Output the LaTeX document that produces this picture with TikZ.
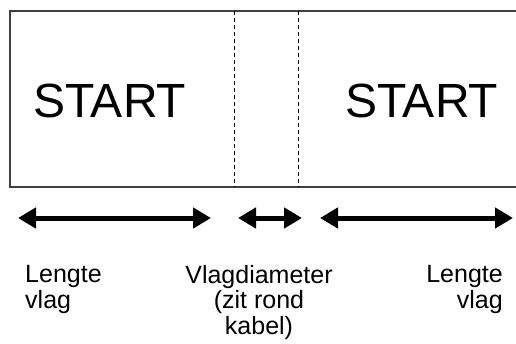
\documentclass[tikz,border=0pt]{standalone}
\usepackage{fontspec}
\setmainfont{Liberation Sans}
\usetikzlibrary{arrows.meta}
\begin{document}
\begin{tikzpicture}[x=1pt,y=-1pt,
  frame/.style={draw=black!75,line width=1.4pt},
  cut/.style={draw=black,line width=0.8pt,dash pattern=on 4pt off 3pt},
  dimarrow/.style={line width=5pt,{Triangle[length=18pt,width=20pt]}-{Triangle[length=18pt,width=20pt]}},
  bigtext/.style={font=\fontsize{48}{52}\selectfont,inner sep=0pt},
  label/.style={font=\fontsize{25}{25.5}\selectfont,inner sep=0pt}]
\useasboundingbox (0,0) rectangle (516,343);
\draw[frame] (520,11) -- (10,11) -- (10,187) -- (520,187);
\coordinate (d1t) at (234,11); \coordinate (d1b) at (234,187);
\coordinate (d2t) at (298,11); \coordinate (d2b) at (298,187);
\draw[cut] (d1t) -- (d1b);
\draw[cut] (d2t) -- (d2b);
\node[bigtext,anchor=base west] (s1) at (33,117) {START};
\node[bigtext,anchor=base west] (s2) at (345,117) {START};
\coordinate (a1l) at (18,218); \coordinate (a1r) at (211,218);
\coordinate (a2l) at (238,218); \coordinate (a2r) at (302,218);
\coordinate (a3l) at (320,218); \coordinate (a3r) at (513,218);
\draw[dimarrow] (a1l) -- (a1r);
\draw[dimarrow] (a2l) -- (a2r);
\draw[dimarrow] (a3l) -- (a3r);
\node[label,anchor=base west,align=left] (l1) at (25,308) {Lengte\\vlag};
\node[label,anchor=base,align=center] (l2) at (259,334) {Vlagdiameter\\(zit rond\\kabel)};
\node[label,anchor=base east,align=right] (l3) at (503,308) {Lengte\\vlag};
\end{tikzpicture}
\end{document}
